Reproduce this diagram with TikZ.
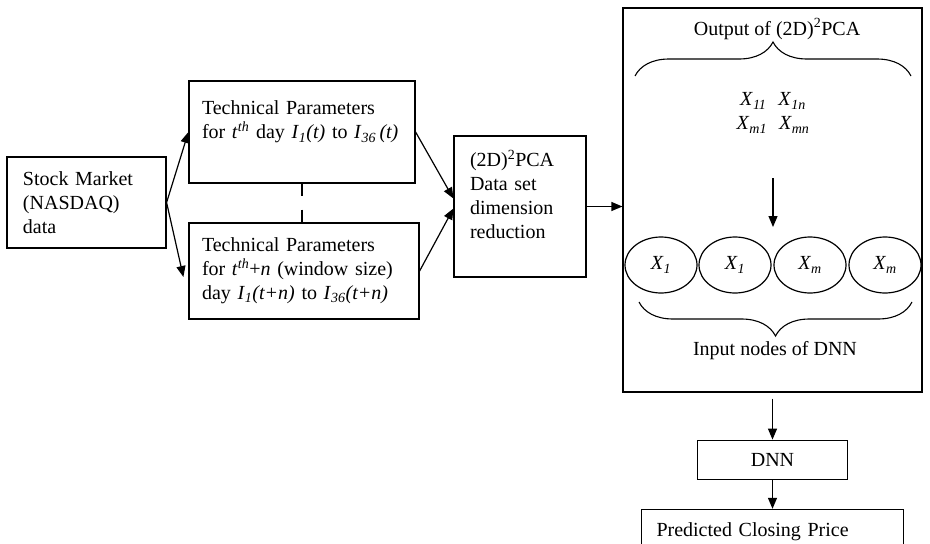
\documentclass[tikz,border=0pt]{standalone}
\usepackage{fontspec}
\setmainfont{Liberation Serif}
\usetikzlibrary{arrows.meta, positioning, shapes.geometric, decorations.pathreplacing}

\newcommand{\vsub}[2]{\textit{#1}\textsubscript{\textit{#2}}}

\begin{document}
\begin{tikzpicture}[
    x=1pt, y=-1pt,
    font=\fontsize{20}{24}\selectfont,
    line width=1.2pt,
    block/.style={rectangle, draw, align=left, inner xsep=16pt, inner ysep=0pt},
    plainbox/.style={rectangle, draw, inner sep=0pt},
    inputnode/.style={ellipse, draw, minimum width=72pt, minimum height=56pt, inner sep=0pt},
    arr/.style={-{Triangle[length=11pt,width=9pt]}},
    curly/.style={decorate, decoration={brace, amplitude=34pt}, line width=1.1pt},
]
\useasboundingbox (0,0) rectangle (930,544);
\clip (0,0) rectangle (930,544);

\node[block, text width=127pt, minimum height=91pt] (stock) at (86.5,202.5) {Stock Market\\(NASDAQ)\\data};
\node[block, text width=200pt, inner xsep=13pt, minimum height=102pt] (tp1) at (302,132) {Technical Parameters\\for~\textit{t}\textsuperscript{\textit{th}}~day~\vsub{I}{1}\textit{(t)}~to~\vsub{I}{36}\,\textit{(t)}\\\mbox{}};
\node[block, text width=204pt, inner xsep=13pt, minimum height=96pt] (tp2) at (304,271) {Technical Parameters\\for~\textit{t}\textsuperscript{\textit{th}}+\textit{n}~(window~size)\\day~\vsub{I}{1}\textit{(t+n)}~to~\vsub{I}{36}\textit{(t+n)}};
\node[block, text width=100pt, minimum height=141pt] (pca) at (520,206.5) {(2D)\textsuperscript{2}PCA\\Data set\\dimension\\reduction\\\mbox{}};

% output of the reduction
\node[plainbox, minimum width=299pt, minimum height=384pt] (out) at (772.5,200) {};
\node (outlbl) at (777,29) {Output of (2D)\textsuperscript{2}PCA};
\draw[curly] (635,76) -- (911,76);
\node[align=center] (mat) at (773,113) {\vsub{X}{11}\hspace{12pt}\vsub{X}{1n}\\\vsub{X}{m1}\hspace{12pt}\vsub{X}{mn}};
\coordinate (mtop) at (773,178);
\coordinate (mbot) at (773,227);

\node[inputnode] (in1) at (661,265) {\vsub{X}{1}};
\node[inputnode] (in2) at (735,265) {\vsub{X}{1}};
\node[inputnode] (in3) at (810,265) {\vsub{X}{m}};
\node[inputnode] (in4) at (885,265) {\vsub{X}{m}};
\draw[curly] (912,302) -- (639,302);
\node (inlbl) at (775,351) {Input nodes of DNN};

\node[plainbox, minimum width=150pt, minimum height=39pt, below=47pt of out] (dnn) {DNN};
\node[block, text width=232pt, inner xsep=15pt, minimum height=44pt, below=29pt of dnn] (pred) {Predicted Closing Price};

\draw[arr] (stock.east) -- (tp1.west);
\draw[arr] (stock.east) -- ([xshift=-5pt,yshift=-6pt]tp2.west);
\draw[dash pattern=on 12pt off 14pt] (tp1.south) -- (tp1.south |- tp2.north);
\draw[arr] (tp1.east) -- ([yshift=8pt]pca.west);
\draw[arr] (tp2.east) -- ([yshift=-2pt]pca.west);
\draw[arr] (pca.east) -- (pca.east -| out.west);
\draw[arr] (mtop) -- (mbot);
\draw[arr] (out.south -| dnn.north) ++(0,6) -- (dnn.north);
\draw[arr] (dnn) -- (pred);

\end{tikzpicture}
\end{document}
